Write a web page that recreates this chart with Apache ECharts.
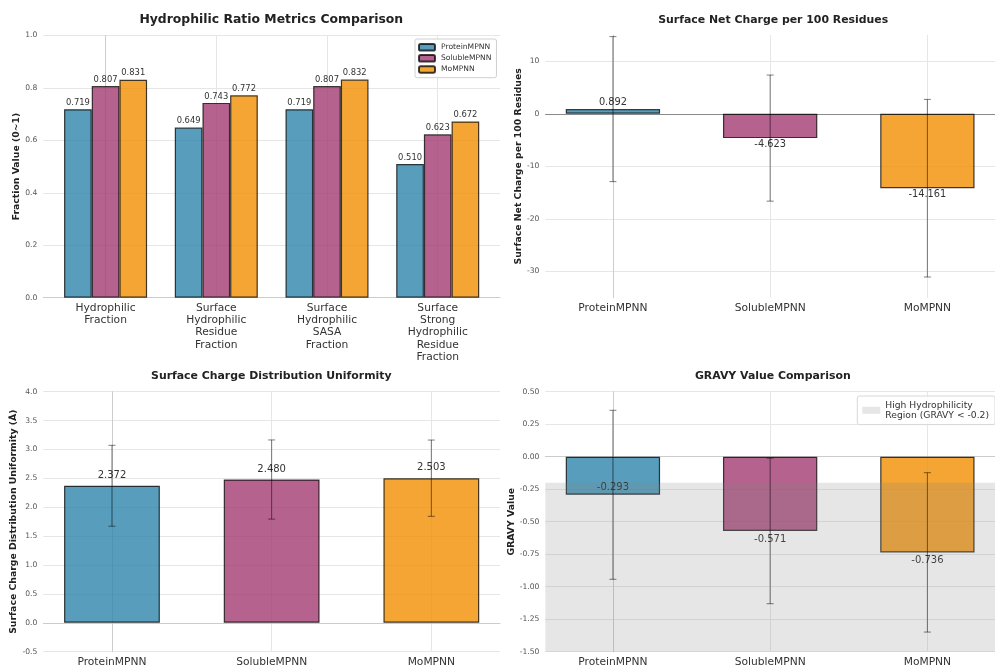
<!DOCTYPE html>
<html>
<head>
<meta charset="utf-8">
<script src="https://cdn.jsdelivr.net/npm/echarts@6/dist/echarts.min.js"></script>
<style>
html,body{margin:0;padding:0;background:#fff;}
#chart{width:995px;height:668px;}
</style>
</head>
<body>
<div id="chart"></div>
<script>
// ---------------- data ----------------
const models = ['ProteinMPNN', 'SolubleMPNN', 'MoMPNN'];
const hydroCategories = ['Hydrophilic\nFraction', 'Surface\nHydrophilic\nResidue\nFraction', 'Surface\nHydrophilic\nSASA\nFraction', 'Surface\nStrong\nHydrophilic\nResidue\nFraction'];
const hydroProtein = [0.719, 0.649, 0.719, 0.510];
const hydroSoluble = [0.807, 0.743, 0.807, 0.623];
const hydroMo = [0.831, 0.772, 0.832, 0.672];
const netChargeMean = [0.892, -4.623, -14.161];
const netChargeStd = [13.8, 12.0, 16.9];
const netChargeTicks = [-30, -20, -10, 0, 10];
const uniformityMean = [2.372, 2.480, 2.503];
const uniformityStd = [0.70, 0.685, 0.66];
const gravyMean = [-0.293, -0.571, -0.736];
const gravyStd = [0.65, 0.56, 0.613];
const gravyThreshold = -0.2;
const gravyLegendName = 'High Hydrophilicity\nRegion (GRAVY < -0.2)';

// ---------------- style ----------------
const FF = 'DejaVu Sans';
const modelColors = ['rgba(46,134,171,0.8)', 'rgba(162,59,114,0.8)', 'rgba(241,143,1,0.8)'];
const edge = 'rgba(0,0,0,0.75)';
const gridColor = '#e6e6e6';
const spineColor = '#cccccc';

const chart = echarts.init(document.getElementById('chart'), null, {renderer: 'canvas'});

const ctx = document.createElement('canvas').getContext('2d');
function textW(t, size, weight) { ctx.font = (weight || 'normal') + ' ' + size + 'px "' + FF + '"'; return ctx.measureText(t).width; }
function centeredTitle(text, cx, cy, size) {
  const w = textW(text, size, 'bold');
  return { text, left: cx - w / 2, top: cy - size * 0.6, padding: 0,
    textStyle: { fontFamily: FF, fontSize: size, fontWeight: 'bold', color: '#222', lineHeight: size * 1.2 } };
}

const grids = [
  { left: 43.3, top: 35.5, width: 456.7, height: 262.2 },
  { left: 545.3, top: 35, width: 449.7, height: 262.7 },
  { left: 43.3, top: 391.7, width: 456.7, height: 262 },
  { left: 545.3, top: 391.7, width: 449.7, height: 262 }
];

function catXAxis(gi, min, max, labels, margin) {
  const idx = labels.map((_, i) => i);
  return { type: 'value', gridIndex: gi, min, max,
    axisLine: { show: true, lineStyle: { color: spineColor, width: 1 } },
    axisTick: { show: false, customValues: idx },
    axisLabel: { customValues: idx, formatter: v => labels[Math.round(v)], fontFamily: FF, fontSize: 10.7, lineHeight: 12.3, color: '#333', margin },
    splitLine: { show: true, lineStyle: { color: gridColor, width: 1 } } };
}
function valYAxis(gi, cfg) {
  const ax = { type: 'value', gridIndex: gi, min: cfg.min, max: cfg.max,
    name: cfg.name, nameLocation: 'middle', nameGap: cfg.nameGap,
    nameTextStyle: { fontFamily: FF, fontSize: 9.3, fontWeight: 'bold', color: '#222' },
    axisLine: { show: true, lineStyle: { color: spineColor, width: 1 } },
    axisTick: { show: false },
    axisLabel: { fontFamily: FF, fontSize: 7.6, color: '#555', margin: 6, formatter: cfg.fmt },
    splitLine: { show: true, lineStyle: { color: gridColor, width: 1 } } };
  if (cfg.interval) ax.interval = cfg.interval;
  if (cfg.ticks) { ax.axisTick.customValues = cfg.ticks; ax.axisLabel.customValues = cfg.ticks; }
  return ax;
}

function errRender(params, api) {
  const x = api.value(0), m = api.value(1), s = api.value(2);
  const t = api.coord([x, m + s]), b = api.coord([x, m - s]);
  const h = 3.5;
  const st = { stroke: 'rgba(0,0,0,0.5)', lineWidth: 1 };
  return { type: 'group', children: [
    { type: 'line', shape: { x1: t[0], y1: t[1], x2: b[0], y2: b[1] }, style: st },
    { type: 'line', shape: { x1: t[0] - h, y1: t[1], x2: t[0] + h, y2: t[1] }, style: st },
    { type: 'line', shape: { x1: b[0] - h, y1: b[1], x2: b[0] + h, y2: b[1] }, style: st }
  ] };
}
function errSeries(gi, means, stds) {
  return { type: 'custom', xAxisIndex: gi, yAxisIndex: gi, z: 5, silent: true,
    renderItem: errRender, encode: { x: 0, y: 1 },
    data: means.map((m, i) => [i, m, stds[i]]) };
}
function modelBars(gi, name, means, labelFor, fontSize) {
  return { type: 'bar', name, xAxisIndex: gi, yAxisIndex: gi, barWidth: '60%', z: 2,
    data: means.map((m, i) => ({ value: [i, m],
      itemStyle: { color: modelColors[i], borderColor: edge, borderWidth: 1.2 },
      label: Object.assign({ show: true, formatter: m.toFixed(3), fontFamily: FF, fontSize, color: '#333' }, labelFor(i, m)) })) };
}

const hydroSeries = [hydroProtein, hydroSoluble, hydroMo].map((vals, k) => ({
  type: 'bar', name: models[k], xAxisIndex: 0, yAxisIndex: 0, barWidth: '25%', barGap: '0%', z: 2,
  itemStyle: { color: modelColors[k], borderColor: edge, borderWidth: 1.2 },
  label: { show: true, position: 'top', distance: 2.5, fontFamily: FF, fontSize: 8.4, color: '#333', formatter: p => p.value[1].toFixed(3) },
  data: vals.map((v, i) => [i, v])
}));

const netBars = modelBars(1, 'netCharge', netChargeMean, (i, m) => ({ position: m >= 0 ? 'top' : 'bottom', distance: 1.5 }), 9.8);
netBars.markLine = { silent: true, symbol: 'none', z: 1, label: { show: false }, lineStyle: { color: '#8a8a8a', width: 1.2, type: 'solid', opacity: 1 }, emphasis: { disabled: true }, data: [{ yAxis: 0 }] };

const uniBars = modelBars(2, 'uniformity', uniformityMean, () => ({ position: 'top', distance: 5.5 }), 10);
const gravyBars = modelBars(3, 'gravy', gravyMean, (i, m) => (m > gravyThreshold - 0.15 ? { position: 'insideBottom', distance: 2 } : { position: 'bottom', distance: 3.5 }), 10);

const option = {
  animation: false,
  backgroundColor: '#ffffff',
  title: [
    centeredTitle('Hydrophilic Ratio Metrics Comparison', 271.3, 19.5, 12.4),
    centeredTitle('Surface Net Charge per 100 Residues', 773.2, 20, 10.9),
    centeredTitle('Surface Charge Distribution Uniformity', 271.3, 375.7, 10.9),
    centeredTitle('GRAVY Value Comparison', 772.8, 376, 10.9)
  ],
  legend: [
    { data: models, orient: 'vertical', align: 'left', left: 415, top: 39, padding: [4, 5, 4, 3], itemGap: 2.6,
      itemWidth: 16, itemHeight: 6.5, backgroundColor: 'rgba(255,255,255,0.85)', borderColor: '#d0d0d0', borderWidth: 1, borderRadius: 2,
      textStyle: { fontFamily: FF, fontSize: 7.6, color: '#333', padding: [0, 0, 0, 1] }, selectedMode: false },
    { data: [{ name: gravyLegendName, icon: 'rect', itemStyle: { color: 'rgba(128,128,128,0.2)', borderWidth: 0 } }],
      left: 857.3, top: 396, padding: [4, 6, 4, 5], itemWidth: 18, itemHeight: 7,
      backgroundColor: 'rgba(255,255,255,0.85)', borderColor: '#d8d8d8', borderWidth: 1, borderRadius: 2,
      textStyle: { fontFamily: FF, fontSize: 9.2, lineHeight: 10.3, color: '#333' }, selectedMode: false }
  ],
  grid: grids,
  xAxis: [
    catXAxis(0, -0.5625, 3.5625, hydroCategories, 4),
    catXAxis(1, -0.43, 2.43, models, 4.5),
    catXAxis(2, -0.43, 2.43, models, 4),
    catXAxis(3, -0.43, 2.43, models, 4)
  ],
  yAxis: [
    valYAxis(0, { min: 0, max: 1, interval: 0.2, name: 'Fraction Value (0~1)', nameGap: 21, fmt: v => v.toFixed(1) }),
    valYAxis(1, { min: -35, max: 15, ticks: netChargeTicks, name: 'Surface Net Charge per 100 Residues', nameGap: 21.5, fmt: v => String(Math.round(v)) }),
    valYAxis(2, { min: -0.5, max: 4, interval: 0.5, name: 'Surface Charge Distribution Uniformity (Å)', nameGap: 24.5, fmt: v => v.toFixed(1) }),
    valYAxis(3, { min: -1.5, max: 0.5, interval: 0.25, name: 'GRAVY Value', nameGap: 29, fmt: v => v.toFixed(2) })
  ],
  series: [
    ...hydroSeries,
    netBars, errSeries(1, netChargeMean, netChargeStd),
    uniBars, errSeries(2, uniformityMean, uniformityStd),
    { type: 'line', name: gravyLegendName, xAxisIndex: 3, yAxisIndex: 3, data: [], z: 3,
      itemStyle: { color: 'rgba(128,128,128,0.2)' }, lineStyle: { color: 'rgba(128,128,128,0.2)' },
      markArea: { silent: true, z: 3, itemStyle: { color: 'rgba(128,128,128,0.2)' }, data: [[{ yAxis: gravyThreshold }, { yAxis: -1.5 }]] } },
    gravyBars, errSeries(3, gravyMean, gravyStd)
  ]
};
chart.setOption(option);
</script>
</body>
</html>
